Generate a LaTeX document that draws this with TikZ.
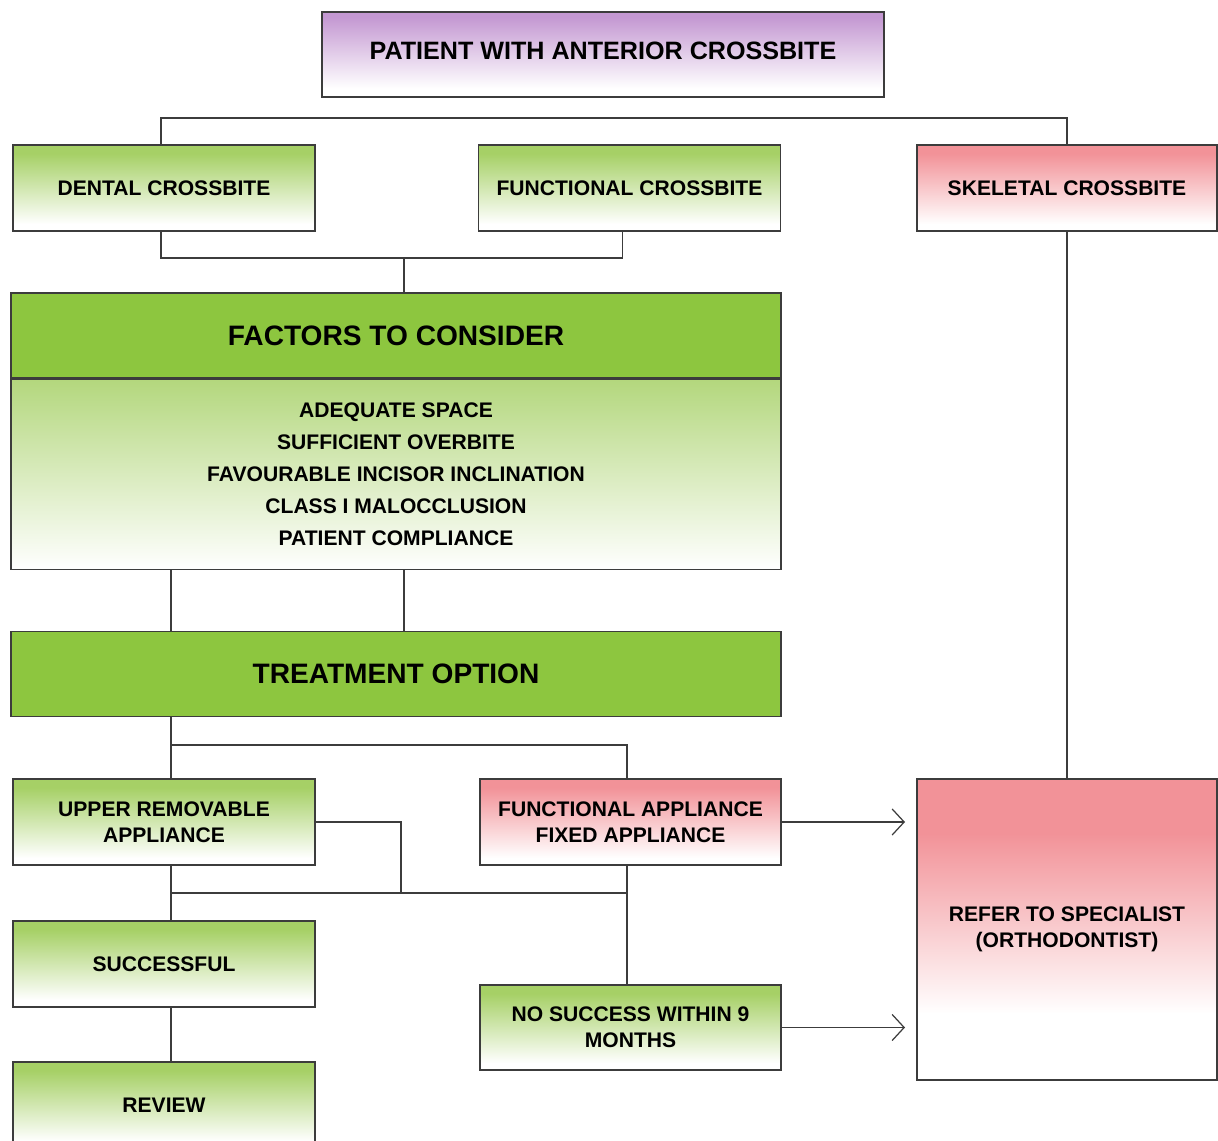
\documentclass[tikz,border=0pt]{standalone}
\usepackage{fontspec}
\setmainfont{Liberation Sans}
\usetikzlibrary{positioning,arrows.meta}
\definecolor{leafgreen}{RGB}{141,198,63}
\definecolor{palegreen}{RGB}{166,208,102}
\definecolor{rosepink}{RGB}{242,146,152}
\definecolor{lilac}{RGB}{196,152,210}
\definecolor{linegray}{RGB}{60,60,60}
% fades: the path spans 25bp (bottom) to 75bp (top)
\pgfdeclareverticalshading{greenfade}{100bp}{color(0bp)=(white); color(29bp)=(white);
  color(70bp)=(palegreen); color(100bp)=(palegreen)}
\pgfdeclareverticalshading{pinkfade}{100bp}{color(0bp)=(white); color(29bp)=(white);
  color(70bp)=(rosepink); color(100bp)=(rosepink)}
\pgfdeclareverticalshading{referfade}{100bp}{color(0bp)=(white); color(36bp)=(white);
  color(66bp)=(rosepink); color(100bp)=(rosepink)}
\pgfdeclareverticalshading{lilacfade}{100bp}{color(0bp)=(white); color(30bp)=(white);
  color(72bp)=(lilac); color(100bp)=(lilac)}

\begin{document}
\begin{tikzpicture}[x=0.02cm,y=-0.02cm]
    \tikzstyle{box} = [rectangle, draw=linegray, line width=0.9pt,
               minimum width=6.04cm, minimum height=1.72cm, inner sep=0pt,
               align=center, font=\fontsize{12}{14.8}\selectfont\bfseries]
    \tikzstyle{greenbox} = [box, shading=greenfade]
    \tikzstyle{pinkbox} = [box, shading=pinkfade]
    \tikzstyle{headbox} = [box, fill=leafgreen, minimum width=15.4cm,
               minimum height=1.7cm, font=\fontsize{16}{19}\selectfont\bfseries]
    \tikzstyle{line} = [draw=linegray, line width=0.7pt]
    \tikzstyle{arrow} = [line, -{Straight Barb[length=2.4mm,width=5.2mm]}]

    \useasboundingbox (0,0) rectangle (1218,1141);
    \fill[white] (0,0) rectangle (1218,1141);

    % Top row
    \node[box, shading=lilacfade, minimum width=11.24cm, minimum height=1.7cm,
      font=\fontsize{14.3}{17}\selectfont\bfseries, text depth=4pt]
      (patient) at (603,54.5) {PATIENT WITH ANTERIOR CROSSBITE};
    \node[greenbox] (dental) at (164,188) {DENTAL CROSSBITE};
    \node[greenbox] (functional) at (629.5,188) {FUNCTIONAL CROSSBITE};
    \node[pinkbox, minimum width=6cm] (skeletal) at (1067,188) {SKELETAL CROSSBITE};

    % Factors and treatment
    \node[headbox] (factors) at (396,335.5) {FACTORS TO CONSIDER};
    \node[box, below=0pt of factors, minimum width=15.4cm, minimum height=3.8cm,
      top color=palegreen!85, bottom color=white,
      font=\fontsize{12}{18.2}\selectfont\bfseries] (list)
      {ADEQUATE SPACE\\ SUFFICIENT OVERBITE\\ FAVOURABLE INCISOR INCLINATION\\
       CLASS I MALOCCLUSION\\ PATIENT COMPLIANCE};
    \node[headbox] (treat) at (396,674) {TREATMENT OPTION};

    % Options and outcomes
    \node[greenbox] (upper) at (164,822) {UPPER REMOVABLE\\ APPLIANCE};
    \node[pinkbox, minimum width=6.02cm] (fixed) at (630.5,822)
      {FUNCTIONAL APPLIANCE\\ FIXED APPLIANCE};
    \node[greenbox] (success) at (164,964) {SUCCESSFUL};
    \node[greenbox] (review) at (164,1105) {REVIEW};
    \node[greenbox, minimum width=6.02cm, minimum height=1.7cm] (nosuccess)
      at (630.5,1027.5) {NO SUCCESS WITHIN 9\\ MONTHS};
    \node[box, minimum width=6cm, minimum height=6.02cm, shading=referfade]
      (refer) at (1067,929.5) {REFER TO SPECIALIST\\ (ORTHODONTIST)};

    % Junction points
    \coordinate (topbar) at (161,118);
    \coordinate (midbar) at (404,258);
    \coordinate (left) at (171,745);
    \coordinate (right) at (627,745);
    \coordinate (lowleft) at (171,893);
    \coordinate (lowmid) at (401,893);
    \coordinate (lowright) at (627,893);
    \coordinate (tipx) at (905,0);

    \draw[line] (dental.north -| topbar) |- (topbar) -| (skeletal.north);
    \draw[line] (dental.south -| topbar) |- (midbar) -| ([xshift=-0.14cm]functional.south);
    \draw[line] (midbar) -- (factors.north -| midbar);
    \draw[line] (list.south -| left) -- (treat.north -| left);
    \draw[line] (list.south -| midbar) -- (treat.north -| midbar);
    \draw[line] (treat.south -| left) -- (upper.north -| left);
    \draw[line] (left) -- (right) -- (fixed.north -| right);
    \draw[line] (upper.south -| lowleft) -- (success.north -| lowleft);
    \draw[line] (fixed.south -| lowright) -- (nosuccess.north -| lowright);
    \draw[line] (lowleft) -- (lowright);
    \draw[line] (upper.east) -| (lowmid);
    \draw[line] (success.south -| lowleft) -- (review.north -| lowleft);
    \draw[line] (skeletal.south) -- (refer.north);

    \draw[arrow] (fixed.east) -- (fixed.east -| tipx);
    \draw[arrow] (nosuccess.east) -- (nosuccess.east -| tipx);

  \end{tikzpicture}
\end{document}
